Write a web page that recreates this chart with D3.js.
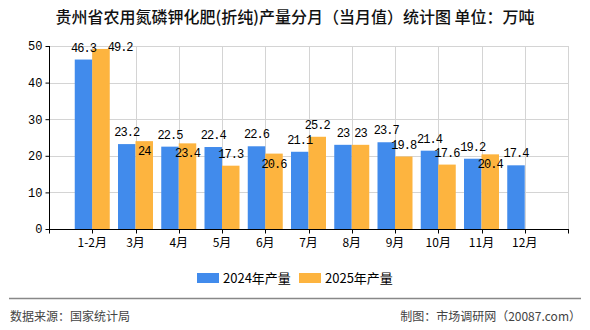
<!DOCTYPE html>
<html>
<head>
<meta charset="utf-8">
<script src="https://cdn.jsdelivr.net/npm/d3@7"></script>
<style>
  body { margin: 0; background: #fff; }
  svg { display: block; }
</style>
</head>
<body>
<svg id="chart" width="590" height="330"></svg>
<script>
const months = ['1-2月', '3月', '4月', '5月', '6月', '7月', '8月', '9月', '10月', '11月', '12月']
const values2024 = [46.3, 23.2, 22.5, 22.4, 22.6, 21.1, 23, 23.7, 21.4, 19.2, 17.4]
const values2025 = [49.2, 24, 23.4, 17.3, 20.6, 25.2, 23, 19.8, 17.6, 20.4, null]
const seriesNames = ['2024年产量', '2025年产量']
const yTicks = [0, 10, 20, 30, 40, 50]

const COLORS = ['#418bec', '#fdb43f']
const CJK = '"Noto Sans CJK SC", "Noto Sans", sans-serif'
const MONO = '"Liberation Mono", "DejaVu Sans Mono", monospace'

const plot = { left: 49, right: 568, top: 46, bottom: 229 }

const svg = d3.select('#chart')

// title
svg.append('text')
  .attr('x', 295).attr('y', 23)
  .attr('text-anchor', 'middle')
  .style('font-family', CJK).style('font-size', '16px').style('font-weight', 500)
  .attr('fill', '#111')
  .text('贵州省农用氮磷钾化肥(折纯)产量分月（当月值）统计图 单位：万吨')

// x positions: 11 months on 12 intervals, one empty slot at each end
const x = d3.scalePoint().domain(months).range([plot.left, plot.right]).padding(1)
const xSub = d3.scaleBand().domain([0, 1]).range([-17.5, 17.5])
const y = d3.scaleLinear().domain([0, 50]).range([plot.bottom, plot.top])

// grid
const grid = svg.append('g').attr('stroke', '#d4d4d4').attr('stroke-width', 1)
grid.selectAll('.h').data(yTicks.filter((d) => d > 0)).enter().append('line')
  .attr('x1', plot.left).attr('x2', plot.right)
  .attr('y1', (d) => Math.round(y(d)) + 0.5).attr('y2', (d) => Math.round(y(d)) + 0.5)
const vLines = months.map((m) => x(m)).concat([plot.right])
grid.selectAll('.v').data(vLines).enter().append('line')
  .attr('x1', (d) => Math.round(d) + 0.5).attr('x2', (d) => Math.round(d) + 0.5)
  .attr('y1', plot.top).attr('y2', plot.bottom)

// bars
const rows = months.map((m, i) => ({ month: m, vals: [values2024[i], values2025[i]] }))
const barData = []
rows.forEach((r) => r.vals.forEach((v, s) => {
  if (v != null) barData.push({ month: r.month, s, v })
}))

svg.append('g').selectAll('rect').data(barData).enter().append('rect')
  .attr('x', (d) => x(d.month) + xSub(d.s))
  .attr('width', xSub.bandwidth())
  .attr('y', (d) => y(d.v))
  .attr('height', (d) => plot.bottom - y(d.v))
  .attr('fill', (d) => COLORS[d.s])

// x axis
const xAxisG = svg.append('g').attr('transform', `translate(0,${plot.bottom + 0.5})`)
xAxisG.append('line').attr('x1', plot.left).attr('x2', plot.right + 1).attr('stroke', '#000')
xAxisG.selectAll('.tk').data([plot.left].concat(vLines)).enter().append('line')
  .attr('x1', (d) => Math.round(d) + 0.5).attr('x2', (d) => Math.round(d) + 0.5)
  .attr('y1', 0).attr('y2', 4).attr('stroke', '#000')
xAxisG.selectAll('text').data(months).enter().append('text')
  .attr('x', (d) => x(d)).attr('y', 17)
  .attr('text-anchor', 'middle')
  .style('font-family', CJK).style('font-size', '12px').attr('fill', '#000')
  .text((d) => d)

// y axis
const yAxis = d3.axisLeft(y).tickValues(yTicks).tickSize(4).tickPadding(3)
const yAxisG = svg.append('g').attr('transform', `translate(${plot.left + 0.5},0)`).call(yAxis)
yAxisG.select('.domain').attr('stroke', '#000').attr('d', `M0,${plot.top}V${plot.bottom}`)
yAxisG.selectAll('.tick line').attr('stroke', '#000')
yAxisG.selectAll('.tick text')
  .style('font-family', MONO).style('font-size', '12px').attr('fill', '#000')

// data labels with a small overlap rule
const charW = 6.2
const labelH = 9
const labelG = svg.append('g')
  .style('font-family', MONO).style('font-size', '12px').style('letter-spacing', '-1px')
  .attr('fill', '#000')
rows.forEach((r) => {
  const boxes = []
  r.vals.forEach((v, s) => {
    if (v == null) return
    const txt = String(v)
    const w = txt.length * charW
    const cx = x(r.month) + xSub(s) + xSub.bandwidth() / 2
    const top = y(v)
    let lab = { txt, cx, base: top - 8, anchor: 'middle', w }
    if (lab.base < plot.top + 5) {
      // no room above: keep inside chart and push to the right of the bar
      lab.base = plot.top + 5
      lab.anchor = 'start'
      lab.cx = x(r.month) + xSub(s) + xSub.bandwidth() - 2
    } else if (boxes.length) {
      const o = boxes[0]
      const overlapX = Math.abs(o.cx - lab.cx) < (o.w + lab.w) / 2
      const overlapY = lab.base > o.base - labelH && lab.base - labelH < o.base
      if (overlapX && overlapY) lab.base = top + 14
    }
    boxes.push(lab)
    labelG.append('text')
      .attr('x', lab.cx).attr('y', lab.base)
      .attr('text-anchor', lab.anchor)
      .text(lab.txt)
  })
})

// legend
const legend = svg.append('g').attr('transform', 'translate(197,273)')
const legendX = [0, 102]
seriesNames.forEach((name, i) => {
  const g = legend.append('g').attr('transform', `translate(${legendX[i]},0)`)
  g.append('rect').attr('width', 22).attr('height', 10).attr('fill', COLORS[i])
  g.append('text').attr('x', 26).attr('y', 10)
    .style('font-family', CJK).style('font-size', '13px').attr('fill', '#000')
    .text(name)
})

// footer
svg.append('line').attr('x1', 9).attr('x2', 581).attr('y1', 298.5).attr('y2', 298.5)
  .attr('stroke', '#888').attr('stroke-width', 1.5)
svg.append('text').attr('x', 10).attr('y', 321)
  .style('font-family', CJK).style('font-size', '12px').attr('fill', '#444')
  .text('数据来源：国家统计局')
svg.append('text').attr('x', 581).attr('y', 321).attr('text-anchor', 'end')
  .style('font-family', CJK).style('font-size', '12px').attr('fill', '#444')
  .text('制图：市场调研网（20087.com）')
</script>
</body>
</html>
